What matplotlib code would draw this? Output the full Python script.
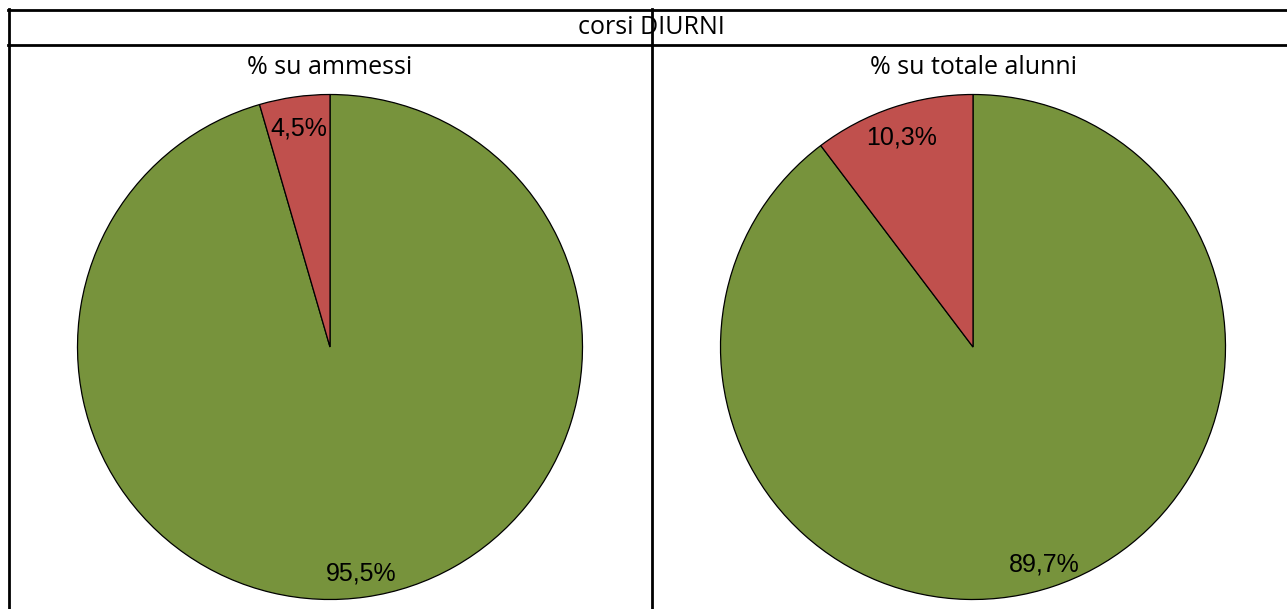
import matplotlib.pyplot as plt
from matplotlib.lines import Line2D

header = "corsi DIURNI"
titles = ["% su ammessi", "% su totale alunni"]
values = [[95.5, 4.5], [89.7, 10.3]]
colors = ["#77933C", "#C0504D"]

W, H = 1287, 609
fig = plt.figure(figsize=(W / 100, H / 100), dpi=100)


def fx(px):
    return px / W


def fy(py):
    return 1 - py / H


# table frame
lw = 2.0
for y in (10, 45):
    fig.add_artist(Line2D([fx(8), 1], [fy(y), fy(y)], color="black", lw=lw))
for x in (9, 652):
    fig.add_artist(Line2D([fx(x), fx(x)], [fy(9), 0], color="black", lw=lw))

title_font = ["Open Sans", "DejaVu Sans"]
fig.text(fx(651), fy(28), header, ha="center", va="center", fontsize=18, family=title_font)

centers = [330, 973]
r = 252.5
cy = 347
for cx, title, vals in zip(centers, titles, values):
    ax = fig.add_axes([fx(cx - r), fy(cy + r), (2 * r) / W, (2 * r) / H])
    _, _, autotexts = ax.pie(
        vals,
        colors=colors,
        startangle=90,
        counterclock=False,
        autopct=lambda p: f"{p:.1f}%".replace(".", ","),
        pctdistance=0.89,
        wedgeprops=dict(edgecolor="black", linewidth=0.9),
        textprops=dict(fontsize=18, family=["Liberation Sans", "DejaVu Sans"]),
    )
    for t in autotexts:
        x, y = t.get_position()
        t.set_position((x, y - 4 / r))
    ax.set_xlim(-1, 1)
    ax.set_ylim(-1, 1)
    ax.axis("off")
    fig.text(fx(cx), fy(67), title, ha="center", va="center", fontsize=18, family=title_font)

fig.savefig("out.png", dpi=100)
